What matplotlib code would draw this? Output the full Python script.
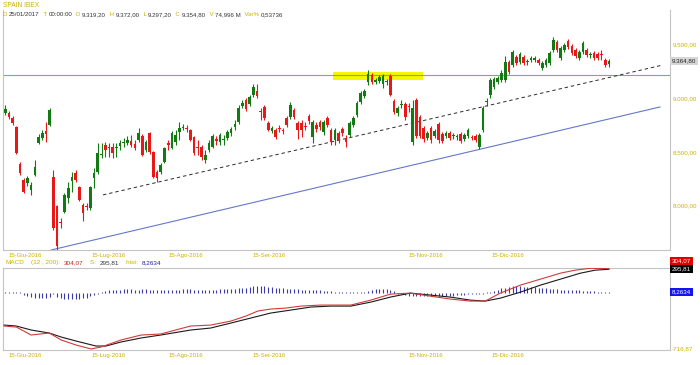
import matplotlib
matplotlib.use('Agg')
import matplotlib.pyplot as plt
from matplotlib.patches import Rectangle

plt.rcParams['font.family'] = ['Liberation Sans', 'DejaVu Sans']

# ---------------- data ----------------
opens = [8867, 8867, 8820, 8737, 8392, 8243, 8215, 8150, 8290, 8588,
         8634, 8699, 8755, 8271, 8001, 7852, 7945, 8076, 8234, 8308,
         8178, 8010, 8001, 7983, 8262, 8317, 8476, 8569, 8550, 8550,
         8541, 8560, 8588, 8588, 8606, 8578, 8616, 8653, 8522, 8681,
         8504, 8317, 8317, 8411, 8588, 8541, 8597, 8690, 8727, 8727,
         8709, 8643, 8550, 8550, 8429, 8522, 8550, 8625, 8597, 8616,
         8634, 8681, 8737, 8783, 8932, 8988, 8951, 9035, 9072, 8886,
         8923, 8774, 8699, 8709, 8727, 8709, 8820, 8830, 8895, 8774,
         8774, 8746, 8839, 8643, 8755, 8783, 8690, 8820, 8709, 8616,
         8681, 8718, 8634, 8662, 8755, 8848, 8969, 9025, 9156, 9221,
         9156, 9165, 9137, 9156, 9211, 8979, 8867, 8941, 8951, 8923,
         8597, 8988, 8830, 8727, 8634, 8727, 8653, 8765, 8671, 8653,
         8681, 8653, 8643, 8671, 8625, 8653, 8643, 8653, 8550, 8709,
         8969, 9035, 9109, 9156, 9174, 9174, 9342, 9314, 9388, 9342,
         9388, 9342, 9360, 9360, 9360, 9286, 9314, 9332, 9453, 9528,
         9379, 9453, 9537, 9491, 9453, 9379, 9435, 9453, 9407, 9426,
         9416, 9407, 9360, 9319.2]
highs = [8941, 8886, 8839, 8746, 8411, 8262, 8280, 8224, 8429, 8671,
         8709, 8783, 8913, 8336, 8010, 7890, 8122, 8224, 8317, 8336,
         8187, 8029, 8029, 8187, 8355, 8588, 8588, 8597, 8588, 8588,
         8588, 8616, 8634, 8653, 8662, 8616, 8727, 8671, 8616, 8690,
         8513, 8336, 8401, 8550, 8616, 8699, 8709, 8783, 8765, 8755,
         8718, 8653, 8616, 8569, 8522, 8616, 8671, 8653, 8681, 8662,
         8709, 8737, 8802, 8941, 8988, 9007, 9035, 9137, 9137, 8913,
         8941, 8792, 8746, 8727, 8755, 8727, 8839, 8969, 8913, 8792,
         8802, 8783, 8858, 8802, 8783, 8802, 8802, 8839, 8727, 8727,
         8699, 8737, 8662, 8792, 8839, 8979, 9072, 9090, 9267, 9239,
         9193, 9221, 9230, 9184, 9230, 8997, 8932, 8988, 8969, 8960,
         8988, 9007, 8848, 8746, 8699, 8746, 8718, 8783, 8690, 8699,
         8699, 8681, 8671, 8690, 8681, 8727, 8662, 8671, 8681, 8932,
         9007, 9193, 9202, 9211, 9267, 9398, 9360, 9453, 9407, 9435,
         9407, 9370, 9398, 9398, 9379, 9351, 9379, 9444, 9574, 9547,
         9491, 9519, 9556, 9509, 9472, 9453, 9537, 9472, 9435, 9444,
         9435, 9453, 9379, 9372.0]
lows = [8848, 8811, 8755, 8485, 8290, 8122, 8187, 8104, 8280, 8578,
        8616, 8597, 8746, 7778, 7595, 7797, 7936, 8029, 8131, 8224,
        8048, 7862, 7964, 7964, 8169, 8299, 8448, 8457, 8457, 8448,
        8457, 8522, 8550, 8569, 8550, 8522, 8597, 8466, 8504, 8485,
        8262, 8224, 8299, 8401, 8522, 8532, 8569, 8616, 8709, 8690,
        8606, 8476, 8476, 8429, 8401, 8504, 8541, 8569, 8569, 8569,
        8616, 8653, 8709, 8765, 8913, 8886, 8932, 9016, 9007, 8802,
        8802, 8699, 8681, 8625, 8690, 8671, 8737, 8811, 8811, 8625,
        8643, 8709, 8765, 8588, 8690, 8709, 8662, 8737, 8569, 8569,
        8588, 8653, 8550, 8643, 8737, 8830, 8951, 9007, 9128, 9137,
        9137, 9146, 9100, 9128, 9025, 8858, 8839, 8913, 8802, 8876,
        8569, 8634, 8634, 8597, 8616, 8588, 8634, 8588, 8588, 8634,
        8616, 8625, 8616, 8588, 8606, 8634, 8616, 8597, 8532, 8690,
        8932, 9007, 9090, 9137, 9156, 9156, 9230, 9295, 9314, 9323,
        9314, 9314, 9342, 9342, 9314, 9267, 9295, 9314, 9435, 9435,
        9360, 9435, 9463, 9407, 9379, 9360, 9416, 9388, 9379, 9360,
        9360, 9360, 9295, 9297.2]
closes = [8904, 8830, 8774, 8494, 8308, 8131, 8262, 8197, 8364, 8643,
          8681, 8671, 8895, 7797, 7629, 7843, 8104, 8169, 8271, 8243,
          8057, 7936, 7992, 8178, 8308, 8494, 8480, 8522, 8541, 8494,
          8545, 8588, 8597, 8616, 8569, 8541, 8681, 8476, 8597, 8504,
          8271, 8262, 8383, 8541, 8569, 8681, 8662, 8727, 8737, 8718,
          8616, 8494, 8541, 8457, 8476, 8588, 8653, 8606, 8662, 8625,
          8690, 8718, 8765, 8913, 8960, 8904, 9016, 9109, 9025, 8876,
          8820, 8709, 8727, 8643, 8718, 8699, 8755, 8941, 8830, 8709,
          8709, 8737, 8792, 8783, 8718, 8737, 8783, 8755, 8597, 8709,
          8616, 8681, 8597, 8774, 8820, 8960, 9053, 9072, 9230, 9156,
          9174, 9202, 9211, 9165, 9035, 8876, 8913, 8951, 8830, 8920,
          8913, 8653, 8653, 8625, 8681, 8616, 8699, 8616, 8606, 8681,
          8634, 8657, 8646, 8606, 8662, 8709, 8634, 8616, 8662, 8913,
          8972, 9174, 9184, 9193, 9239, 9342, 9249, 9435, 9332, 9416,
          9332, 9345, 9379, 9379, 9332, 9332, 9360, 9426, 9547, 9453,
          9472, 9500, 9481, 9426, 9398, 9435, 9519, 9407, 9410, 9379,
          9379, 9404, 9314, 9354.8]

# MACD panel
macd_idx = [-0.3, 3, 7, 11.9, 15.1, 19.1, 23.2, 25.9, 31.3, 36.7, 42, 46, 50.1,
            55.5, 60.9, 65, 68.2, 71.7, 75.7, 79.8, 85.2, 93.3, 98.7, 104, 109.4,
            114.8, 120.2, 125.6, 129.6, 133.7, 139.1, 144.5, 149.9, 153.9, 157.9, 163]
macd_val = [-416, -429, -529, -504, -591, -654, -704, -679, -591, -529, -516, -466, -416,
            -404, -354, -291, -228, -203, -191, -166, -153, -153, -91, -16, -3,
            -41, -78, -103, -103, -3, 97, 172, 247, 285, 308, 304.07]
signal_idx = [-0.3, 3, 7, 11.9, 15.1, 19.1, 24.5, 27.2, 31.3, 36.7, 42, 50.1, 55.5,
              60.9, 66.3, 71.7, 77.1, 82.5, 87.9, 93.3, 98.7, 104, 109.4, 114.8,
              120.2, 125.6, 129.6, 133.7, 139.1, 144.5, 149.9, 155.3, 159.3, 163]
signal_val = [-404, -416, -466, -504, -554, -604, -667, -667, -616, -566, -529, -466, -441,
              -379, -316, -253, -216, -178, -166, -166, -116, -53, -3, -28,
              -53, -91, -103, -66, 9, 97, 172, 247, 285, 295.81]
hist_val = ([10, 10, 10, 10, 10] +
            [-30, -45, -55, -65, -70, -70, -65, -55] +
            [-10] +
            [-50, -65, -75, -80, -80, -78, -75, -70, -60, -45, -30] +
            [-10, 10] +
            [20, 30, 35, 40, 40, 45, 45, 45, 40, 40, 45, 45, 40, 40, 35, 35, 35, 40, 40,
             40, 40, 45, 45, 45, 40, 40, 40, 40, 40, 40, 40, 45, 45, 45, 50, 50, 55, 60] +
            [65, 75, 80, 85, 85, 80, 75, 70, 65] +
            [60, 55, 50, 50, 45, 45, 40, 40, 35, 35, 30, 30, 25, 20, 20, 15, 15] +
            [10, 10, 10, 10, 10, 10, 10] +
            [25, 35, 45, 50, 50, 45, 35, 20] +
            [-10, -20, -30, -35, -40, -40, -40, -45, -45, -45, -40, -40, -40, -40, -35,
             -35, -30, -30, -25, -20] +
            [-10, -10, -10, -10, 10, 10] +
            [25, 40, 55, 65, 75, 80, 80, 80, 75, 75, 70, 70, 65, 60, 55, 50] +
            [45, 45, 40, 40, 35, 35, 30, 30, 25, 25, 20, 20, 15, 15, 10, 8.26])

date_idx = [5.4, 27.8, 48.8, 71.2, 113.7, 135.8]
date_labels = ['15-Giu-2016', '15-Lug-2016', '15-Ago-2016', '15-Set-2016',
               '15-Nov-2016', '15-Dic-2016']
price_ticks = [8000, 8500, 9000, 9500]
price_tick_labels = ['8.000,00', '8.500,00', '9.000,00', '9.500,00']

resistance_level = 9221
zone_idx = [88.4, 112.7]
zone_price = [9174, 9249]
support_idx = [12.4, 176.8]
support_price = [7591, 8923]
dashed_idx = [26.4, 177.6]
dashed_price = [8104, 9314]

# ---------------- style ----------------
GOLD = '#cdb000'
GREEN = '#137a13'
RED = '#e81818'
DARK = '#333333'
SPINE = '#c4c4c4'
W, H = 700, 365

fig = plt.figure(figsize=(7, 3.65), dpi=100)
fig.patch.set_facecolor('white')


def fx(px):
    return px / W


def fy(py):
    return 1 - py / H


ax = fig.add_axes([fx(3), fy(250), fx(670) - fx(3), fy(10) - fy(250)])
ax2 = fig.add_axes([fx(3), fy(350), fx(670) - fx(3), fy(268) - fy(350)])

n = len(closes)
idx = list(range(n))
cols = [GREEN if c >= o else RED for o, c in zip(opens, closes)]
ax.vlines(idx, lows, highs, colors=cols, lw=0.8, zorder=3)
bottoms = [min(o, c) for o, c in zip(opens, closes)]
heights = [max(abs(c - o), 9) for o, c in zip(opens, closes)]
ax.bar(idx, heights, bottom=bottoms, width=0.72, color=cols, linewidth=0, zorder=4)

ax.add_patch(Rectangle((zone_idx[0], zone_price[0]), zone_idx[1] - zone_idx[0],
                       zone_price[1] - zone_price[0], facecolor='#f6f600',
                       edgecolor='none', zorder=1))
ax.axhline(resistance_level, color='#8398cc', lw=0.8, zorder=2)
ax.plot(support_idx, support_price, color='#6478c8', lw=0.8, zorder=2)
ax.plot(dashed_idx, dashed_price, color='#2a2a2a', lw=0.7, ls=(0, (3.5, 3)), zorder=2)

ax.set_xlim(-0.6, 179.5)
ax.set_ylim(7591, 9826)
ax.set_yticks([])
ax.set_xticks(date_idx, date_labels)
ax.tick_params(axis='x', length=0, labelsize=4.3, labelcolor=GOLD, pad=2.5)
ax.spines['top'].set_visible(False)
for s in ['left', 'right', 'bottom']:
    ax.spines[s].set_color(SPINE)
    ax.spines[s].set_linewidth(0.8)

for p, lab in zip(price_ticks, price_tick_labels):
    ax.annotate(lab, xy=(1.004, p), xycoords=('axes fraction', 'data'),
                ha='left', va='center', fontsize=4.5, color=GOLD, annotation_clip=False)
ax.annotate('9.364,80', xy=(1.003, closes[-1]), xycoords=('axes fraction', 'data'),
            ha='left', va='center', fontsize=4.5, color='#222222', annotation_clip=False,
            bbox=dict(boxstyle='square,pad=0.25', fc='#d6d6d6', ec='none'))

# MACD panel
ax2.vlines(idx, 0, hist_val, colors='#3a3ab0', lw=0.8, zorder=2)
ax2.plot(signal_idx, signal_val, color='#1a1a1a', lw=0.8, zorder=3)
ax2.plot(macd_idx, macd_val, color='#d23a3a', lw=0.8, zorder=4)
ax2.set_xlim(-0.6, 179.5)
ax2.set_ylim(-716.87, 312)
ax2.set_yticks([])
ax2.set_xticks(date_idx, date_labels)
ax2.tick_params(axis='x', length=0, labelsize=4.3, labelcolor=GOLD, pad=2.5)
for s in ax2.spines.values():
    s.set_color(SPINE)
    s.set_linewidth(0.8)

# right-side MACD labels
fig.text(fx(672), fy(261), '304,07', fontsize=4.5, color='white', va='center', ha='left',
         bbox=dict(boxstyle='square,pad=0.25', fc='#e00000', ec='none'))
fig.text(fx(672), fy(269), '295,81', fontsize=4.5, color='white', va='center', ha='left',
         bbox=dict(boxstyle='square,pad=0.25', fc='#000000', ec='none'))
fig.text(fx(672), fy(292), '8,2634', fontsize=4.5, color='white', va='center', ha='left',
         bbox=dict(boxstyle='square,pad=0.25', fc='#1414f0', ec='none'))
fig.text(fx(672), fy(349), '-716,87', fontsize=4.5, color=GOLD, va='center', ha='left')


def chain_text(x_px, y_px, pieces, fs):
    prev = ax.annotate(pieces[0][0], xy=(fx(x_px), fy(y_px)), xycoords='figure fraction',
                       color=pieces[0][1], fontsize=fs, va='baseline', ha='left',
                       annotation_clip=False)
    for txt, col in pieces[1:]:
        prev = ax.annotate(txt, xy=(1, 0), xycoords=prev, color=col, fontsize=fs,
                           va='bottom', ha='left', annotation_clip=False)


fig.text(fx(3), fy(7), 'SPAIN IBEX', color=GOLD, fontsize=4.8, va='baseline', ha='left')
chain_text(3, 16, [('D ', GOLD), ('25/01/2017', DARK), ('  T ', GOLD), ('00:00:00', DARK),
                   ('  O ', GOLD), ('9.319,20', DARK), ('  H ', GOLD), ('9.372,00', DARK),
                   ('  L ', GOLD), ('9.297,20', DARK), ('  C ', GOLD), ('9.354,80', DARK),
                   ('  V ', GOLD), ('74,996 M', DARK), ('  Var% ', GOLD), ('0,53736', DARK)],
           4.4)
chain_text(5, 264, [('MACD', GOLD), ('    (12 , 200):  ', GOLD), ('304,07', '#d02020'),
                    ('    S:  ', GOLD), ('295,81', DARK), ('    hist:  ', GOLD),
                    ('8,2634', '#2020a0')], 4.6)

fig.savefig('out.png', dpi=100, facecolor='white')
